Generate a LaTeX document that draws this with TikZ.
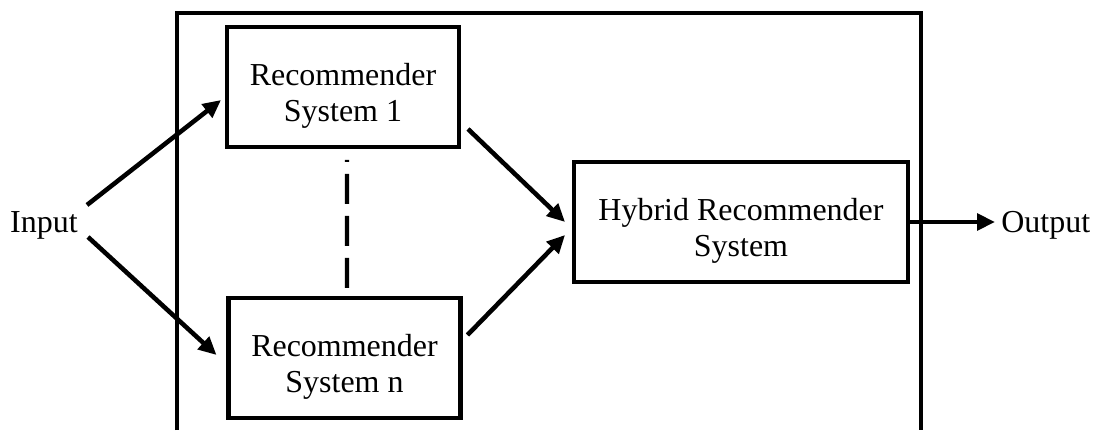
\documentclass[tikz,border=0pt]{standalone}
\usepackage{fontspec}
\setmainfont{Liberation Serif}
\usepackage{tikz}
\usetikzlibrary{arrows.meta}

\newcommand{\hdstrut}{\rule{0pt}{0.8cm}}

\tikzset{
    recbox/.style={draw=black,line width=2.6pt,outer sep=0pt,align=center,
        minimum height=2.4cm,font=\fontsize{18.2}{21}\selectfont},
    lbl/.style={inner sep=0pt,font=\fontsize{18.2}{21}\selectfont},
    arr/.style={black,line width=2.6pt,->},
}

\begin{document}
\begin{tikzpicture}[x=0.02cm,y=0.02cm]
\useasboundingbox (0,0) rectangle (1099,430);
\begin{scope}[>={Triangle[length=0.36cm,width=0.33cm]}]

    % outer frame, open at the bottom
    \draw[black,line width=2.6pt] (177,0) -- (177,417) -- (921,417) -- (921,0);

    \node[recbox,minimum width=4.64cm] (rs1) at (343,343) {\hdstrut Recommender\\System 1};
    \node[recbox,minimum width=4.64cm] (rsn) at (344.5,72) {\hdstrut Recommender\\System n};
    \node[recbox,minimum width=6.68cm] (hyb) at (741,208) {\hdstrut Hybrid Recommender\\System};

    \node[lbl,anchor=base east] (in) at (78,198) {Input};
    \node[lbl,anchor=base west] (out) at (1001,198) {Output};

    \draw[arr] ([shift={(9,27)}]in.base east) -- ([shift={(-6,-13)}]rs1.west);
    \draw[arr] ([shift={(10,-5)}]in.base east) -- ([shift={(-12,3)}]rsn.west);
    \draw[arr] ([shift={(9,-42)}]rs1.east) -- ([shift={(-9,0)}]hyb.west);
    \draw[arr] ([shift={(7,23)}]rsn.east) -- ([shift={(-9,-13)}]hyb.west);
    \draw[arr] (hyb.east) -- ([shift={(-6,10)}]out.base west);

    \draw[black,line width=2.4pt,dash pattern=on 0.6cm off 0.24cm,dash phase=0.56cm]
        ([shift={(4,-13)}]rs1.south) -- ([shift={(2.5,9)}]rsn.north);

\end{scope}
\end{tikzpicture}
\end{document}
